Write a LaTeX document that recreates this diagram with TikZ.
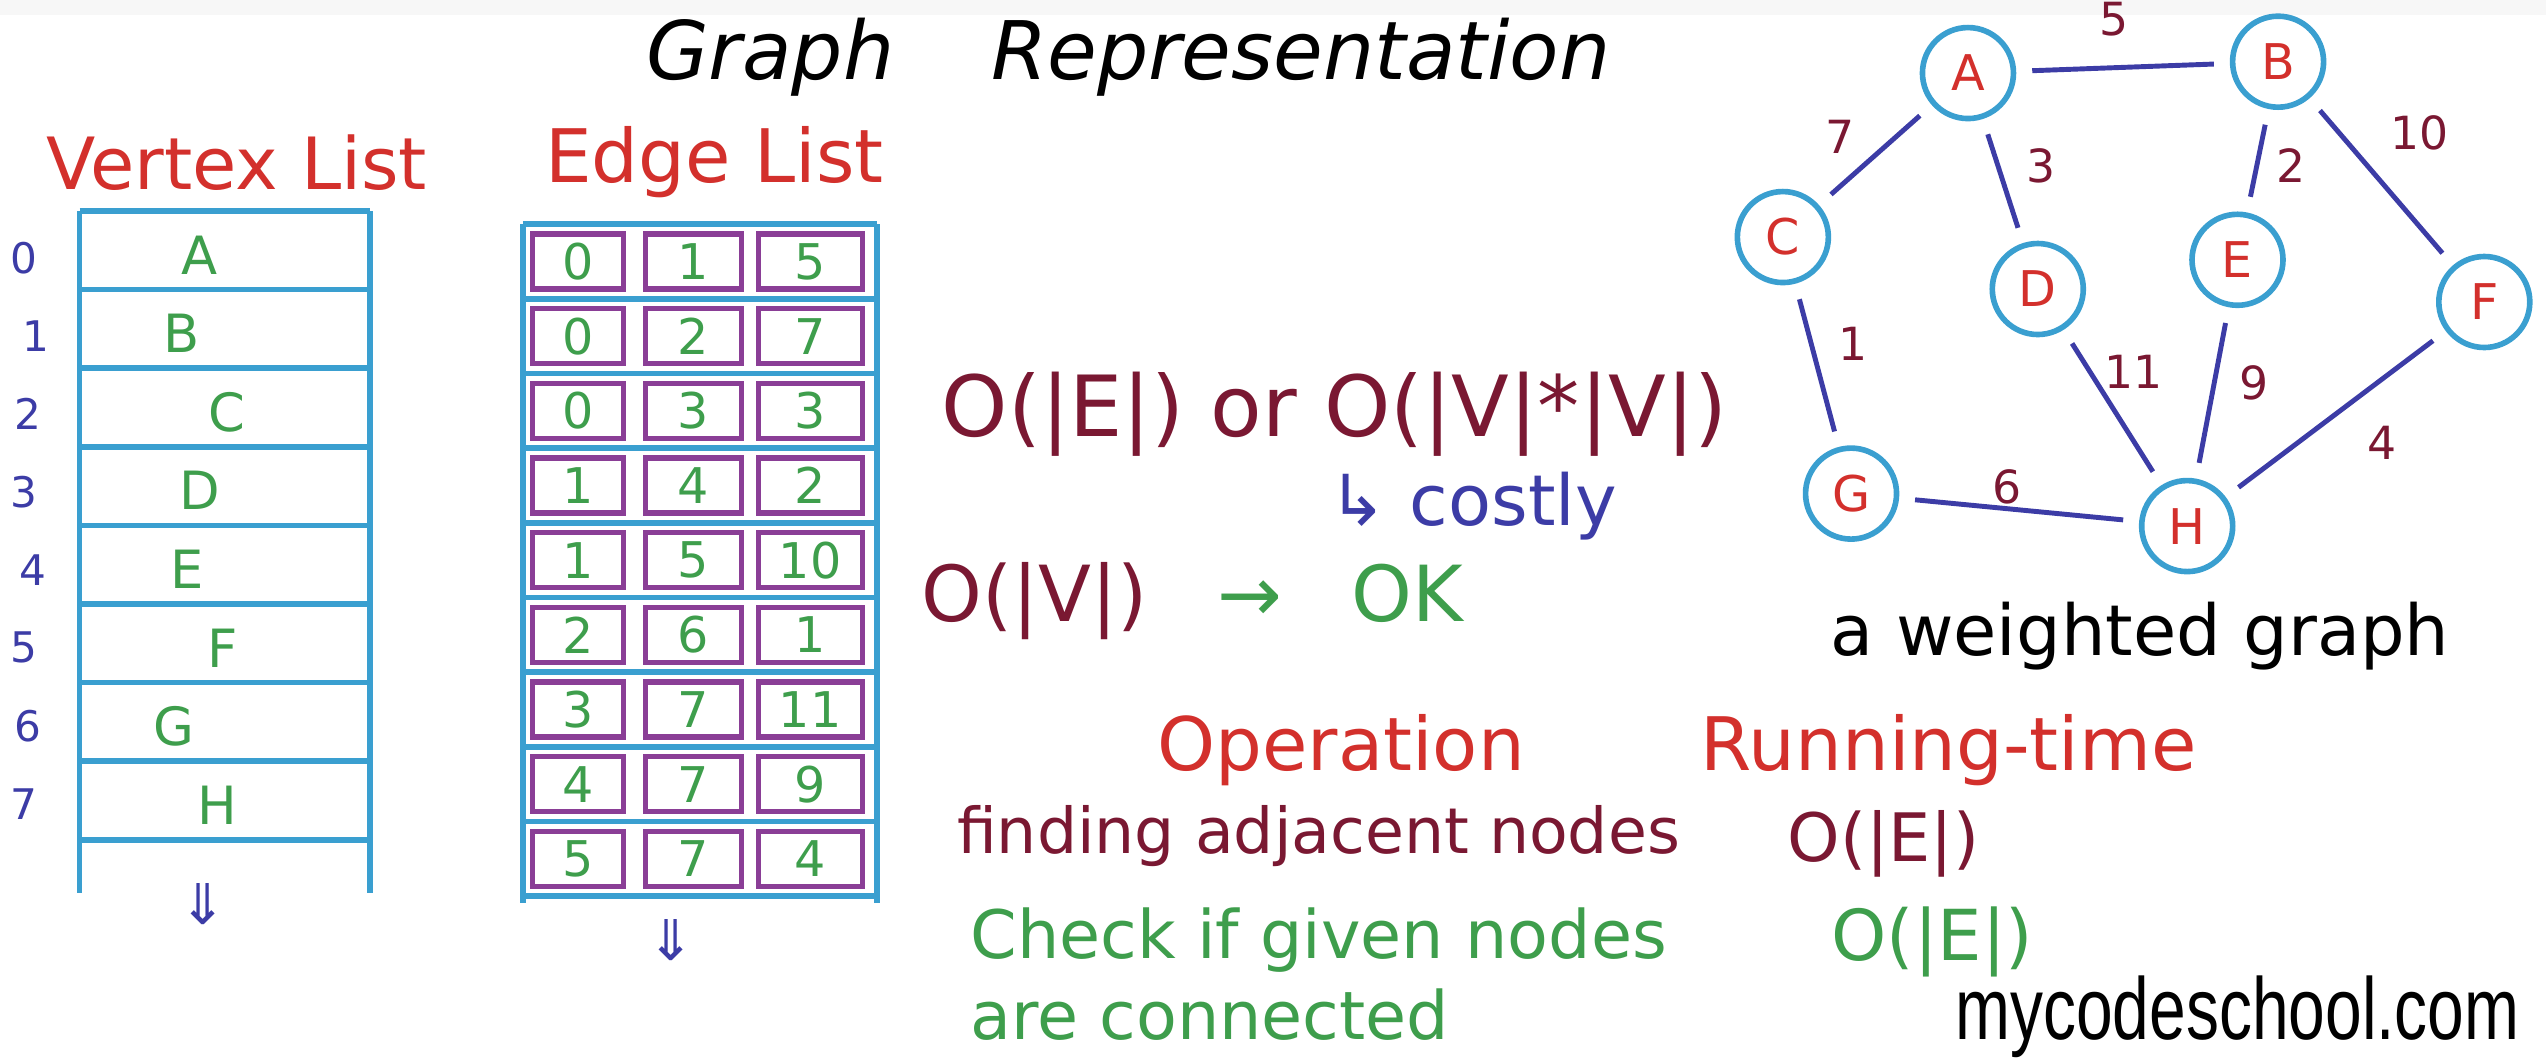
\documentclass[tikz,border=0pt]{standalone}
\usepackage{fontspec}
\setmainfont{DejaVu Sans}
\newfontfamily\wmfont{Liberation Sans}
\usetikzlibrary{positioning}
\definecolor{hred}{HTML}{D3302C}
\definecolor{hmaroon}{HTML}{7A1832}
\definecolor{hgreen}{HTML}{3E9E4C}
\definecolor{hblue}{HTML}{3C3CA6}
\definecolor{hcyan}{HTML}{3A9FD0}
\definecolor{hpurple}{HTML}{8A3E96}
\newcommand{\fs}[1]{\fontsize{#1}{#1}\selectfont}
\tikzset{
  boxline/.style={hcyan, line width=1.6pt},
  cell/.style={draw=hpurple, line width=1.5pt, minimum height=5.5mm, inner sep=0pt, text=hgreen, font=\fs{14}},
  vtx/.style={circle, draw=hcyan, line width=1.6pt, minimum size=9.1mm, inner sep=0pt, text=hred, font=\fs{14}},
  gedge/.style={hblue, line width=1.4pt, shorten <=1.6mm, shorten >=1.6mm},
  wt/.style={text=hmaroon, font=\fs{13}},
  idx/.style={text=hblue, font=\fs{12}},
  vname/.style={text=hgreen, font=\fs{15}},
}

\begin{document}
\begin{tikzpicture}[x=0.16237mm, y=-0.16237mm]
  \useasboundingbox (0,0) rectangle (1568,652);
  \fill[black!3] (0,0) rectangle (1568,9);
  % title
  \node[font=\fs{23}\itshape] (title) at (695,35) {Graph\hspace{1.2em}Representation};
  % vertex list
  \node[text=hred, font=\fs{20.5}] (vhead) at (146,100) {Vertex List};
  \foreach \k in {0,...,8}{\draw[boxline] (49,{130+48.4*\k}) -- (228,{130+48.4*\k});}
  \draw[boxline] (49,130) -- (49,550);
  \draw[boxline] (228,130) -- (228,550);
  \foreach \lt/\xx [count=\k from 0] in {A/123,B/112,C/140,D/123,E/115,F/137,G/107,H/134}{
    \node[vname] (v\k) at (\xx,{157+48.4*\k}) {\lt};}
  \foreach \xx [count=\k from 0] in {15,22,17,15,20,15,17,15}{
    \node[idx] (i\k) at (\xx,{159+48*\k}) {\k};}
  \node[text=hblue, font=\fs{16}] (vdown) at (125,557) {⇓};
  % edge list
  \node[text=hred, font=\fs{21}] (ehead) at (440,100) {Edge List};
  \foreach \k in {0,...,9}{\draw[boxline] (322,{138+46*\k}) -- (540,{138+46*\k});}
  \draw[boxline] (322,138) -- (322,556);
  \draw[boxline] (540,138) -- (540,556);
  \foreach \a/\b/\w [count=\k from 0] in {0/1/5,0/2/7,0/3/3,1/4/2,1/5/10,2/6/1,3/7/11,4/7/9,5/7/4}{
    \node[cell, minimum width=9.1mm] (c\k-1) at (356,{161+46*\k}) {\a};
    \node[cell, minimum width=9.6mm] (c\k-2) at (427,{161+46*\k}) {\b};
    \node[cell, minimum width=10.4mm] (c\k-3) at (499,{161+46*\k}) {\w};}
  \node[text=hblue, font=\fs{16}] (edown) at (413,579) {⇓};
  % cost notes
  \node[text=hmaroon, font=\fs{24}] (cost1) at (822,255) {O(|E|) or O(|V|*|V|)};
  \node[text=hblue, font=\fs{20}] (costly) at (907,312) {↳ costly};
  \node[text=hmaroon, font=\fs{22}, anchor=west] (cost2) at (560,370) {O(|V|)\hspace{0.9em}\textcolor{hgreen}{→\hspace{0.9em}OK}};
  % weighted graph
  \node[vtx] (nA) at (1212,45) {A};
  \node[vtx] (nB) at (1403,38) {B};
  \node[vtx] (nC) at (1098,146) {C};
  \node[vtx] (nD) at (1255,178) {D};
  \node[vtx] (nE) at (1378,160) {E};
  \node[vtx] (nF) at (1530,186) {F};
  \node[vtx] (nG) at (1140,304) {G};
  \node[vtx] (nH) at (1347,324) {H};
  \draw[gedge] (nA) -- (nB);
  \draw[gedge] (nA) -- (nC);
  \draw[gedge] (nA) -- (nD);
  \draw[gedge] (nB) -- (nE);
  \draw[gedge] (nB) -- (nF);
  \draw[gedge] (nC) -- (nG);
  \draw[gedge] (nD) -- (nH);
  \draw[gedge] (nE) -- (nH);
  \draw[gedge] (nF) -- (nH);
  \draw[gedge] (nG) -- (nH);
  \node[wt] (wab) at (1302,12) {5};
  \node[wt] (wac) at (1133,84) {7};
  \node[wt] (wad) at (1257,102) {3};
  \node[wt] (wbe) at (1411,102) {2};
  \node[wt] (wbf) at (1490,82) {10};
  \node[wt] (wcg) at (1141,212) {1};
  \node[wt] (wdh) at (1314,229) {11};
  \node[wt] (weh) at (1388,236) {9};
  \node[wt] (wfh) at (1467,273) {4};
  \node[wt] (wgh) at (1236,300) {6};
  \node[font=\fs{20}] (gcap) at (1318,392) {a weighted graph};
  % operations table
  \node[text=hred, font=\fs{21}] (ophead) at (826,462) {Operation};
  \node[text=hred, font=\fs{21}] (rthead) at (1200,462) {Running-time};
  \node[text=hmaroon, font=\fs{18}] (op1) at (812,515) {finding adjacent nodes};
  \node[text=hmaroon, font=\fs{19}] (rt1) at (1160,520) {O(|E|)};
  \node[text=hgreen, font=\fontsize{19}{23}\selectfont, align=left, anchor=west] (op2) at (590,600) {Check if given nodes\\are connected};
  \node[text=hgreen, font=\fs{20}] (rt2) at (1190,580) {O(|E|)};
  % watermark
  \node[font=\wmfont\fs{25}] (wm) at (1378,626) {\scalebox{0.75}[1]{mycodeschool.com}};
\end{tikzpicture}
\end{document}
